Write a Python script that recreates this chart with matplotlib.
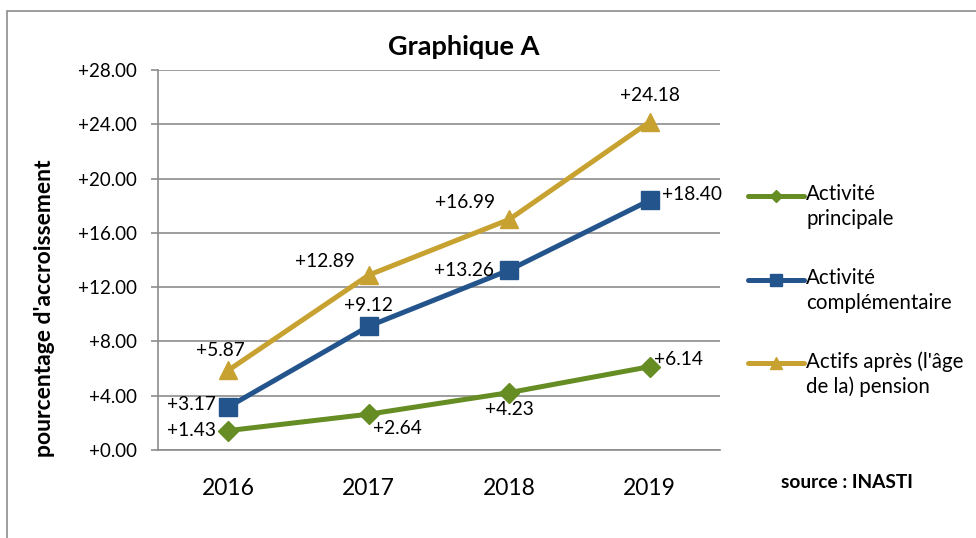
import matplotlib.pyplot as plt
from matplotlib.patches import Rectangle
from matplotlib.lines import Line2D

plt.rcParams['font.family'] = ['Lato', 'DejaVu Sans']

years = ["2016", "2017", "2018", "2019"]
principale = [1.43, 2.64, 4.23, 6.14]
complementaire = [3.17, 9.12, 13.26, 18.40]
pension = [5.87, 12.89, 16.99, 24.18]
series_names = ["Activité\nprincipale", "Activité\ncomplémentaire", "Actifs après (l'âge\nde la) pension"]
yticks = [0, 4, 8, 12, 16, 20, 24, 28]

GREEN = "#668C24"
BLUE = "#24548C"
GOLD = "#C8A230"
GRID = "#8C8C8C"

fig = plt.figure(figsize=(9.76, 5.38), dpi=100)
ax = fig.add_axes([158/976, 1-450/538, (720-158)/976, (450-70)/538])

x = range(len(years))
styles = [(principale, GREEN, "D", 10), (complementaire, BLUE, "s", 13), (pension, GOLD, "^", 13)]
for (vals, col, mk, ms), name in zip(styles, series_names):
    ax.plot(x, vals, color=col, lw=3.6, marker=mk, ms=ms, label=name, zorder=3)

# data labels (offsets in points)
offs_g = [(-9, 0, "right"), (3, -10, "left"), (0, -12, "center"), (3, 5, "left")]
offs_b = [(-9, 2, "right"), (0, 15, "center"), (-11, 0, "right"), (9, 4, "left")]
offs_o = [(-6, 14, "center"), (-10, 10, "right"), (-10, 12, "right"), (0, 19, "center")]
for vals, offs in [(principale, offs_g), (complementaire, offs_b), (pension, offs_o)]:
    for i, v in enumerate(vals):
        dx, dy, ha = offs[i]
        ax.annotate(f"+{v:.2f}", (i, v), xytext=(dx, dy), textcoords="offset points",
                    ha=ha, va="center", fontsize=13.8, color="black", zorder=4)

ax.set_xlim(-0.5, 3.5)
ax.set_ylim(0, 28)
ax.set_yticks(yticks)
ax.set_yticklabels([f"+{t:.2f}" for t in yticks], fontsize=13.5)
ax.set_xticks(list(x))
ax.set_xticklabels(years, fontsize=16.5)
ax.tick_params(axis="x", length=0, pad=20)
ax.tick_params(axis="y", length=5, color=GRID, width=1.2, pad=10)
ax.grid(axis="y", color=GRID, lw=1.2)
ax.set_axisbelow(True)
for s in ["top", "right"]:
    ax.spines[s].set_visible(False)
for s in ["left", "bottom"]:
    ax.spines[s].set_color(GRID)
    ax.spines[s].set_linewidth(1.2)

# y label sits lower than the axes centre in the original
fig.text(45/976, 1-308/538, "pourcentage d'accroissement", fontsize=16.5, fontweight="bold",
         rotation=90, ha="center", va="center")

fig.text(464/976, 1-47/538, "Graphique A", fontsize=19.5, fontweight="bold", ha="center", va="center")
fig.text(847/976, 1-483/538, "source : INASTI", fontsize=13.8, fontweight="bold", ha="center", va="center")

# legend drawn by hand so the key sits on the first text line
leg_y = [196, 280, 363]
for (vals, col, mk, ms), name, yy in zip(styles, series_names, leg_y):
    yf = 1 - yy/538
    fig.add_artist(Line2D([748/976, 804/976], [yf, yf], transform=fig.transFigure,
                          color=col, lw=3.6, solid_capstyle="round"))
    fig.add_artist(Line2D([776/976], [yf], transform=fig.transFigure, color=col,
                          marker=mk, ms=ms*0.62, lw=0))
    fig.text(806/976, yf + 0.022, name, fontsize=14.8, ha="left", va="top", linespacing=1.3)

fig.patches.append(Rectangle((7/976, -0.1), 1.2, 1-11/538+0.1, transform=fig.transFigure,
                             fill=False, edgecolor="#8C8C8C", lw=1.2))

fig.savefig("out.png", dpi=100)
